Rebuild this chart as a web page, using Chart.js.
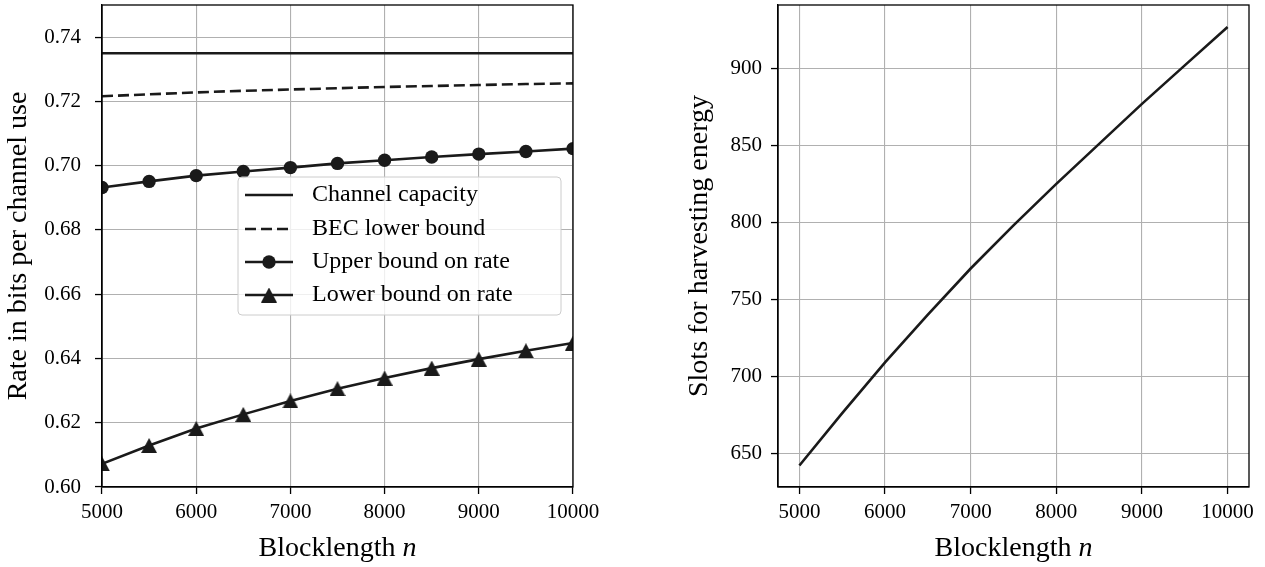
<!DOCTYPE html>
<html>
<head>
<meta charset="utf-8">
<script src="https://cdn.jsdelivr.net/npm/chart.js@4.4.1/dist/chart.umd.min.js"></script>
<style>
  html, body { margin: 0; padding: 0; background: #fff; }
  #wrap { position: relative; width: 1265px; height: 567px; }
  .box { position: absolute; top: 0; height: 567px; }
</style>
</head>
<body>
<div id="wrap">
  <div class="box" style="left:0;width:632px"><canvas id="rateChart"></canvas></div>
  <div class="box" style="left:632px;width:633px"><canvas id="slotsChart"></canvas></div>
</div>
<script>
// data
const blocklengths = [5000, 5500, 6000, 6500, 7000, 7500, 8000, 8500, 9000, 9500, 10000];
const channelCapacity = [0.735, 0.735, 0.735, 0.735, 0.735, 0.735, 0.735, 0.735, 0.735, 0.735, 0.735];
const becLowerBound = [0.7216, 0.7222, 0.7228, 0.7233, 0.7237, 0.7241, 0.7245, 0.7248, 0.7251, 0.7254, 0.7256];
const upperBound = [0.6932, 0.6951, 0.6969, 0.6982, 0.6994, 0.7007, 0.7017, 0.7027, 0.7036, 0.7044, 0.7053];
const lowerBound = [0.6072, 0.6129, 0.6182, 0.6226, 0.6268, 0.6306, 0.6339, 0.6370, 0.6398, 0.6424, 0.6448];
const harvestSlots = [642, 676, 709, 740, 770, 798, 825, 851, 877, 902, 927];

const rateTicks = [0.60, 0.62, 0.64, 0.66, 0.68, 0.70, 0.72, 0.74];
const blockTicks = [5000, 6000, 7000, 8000, 9000, 10000];
const slotTicks = [650, 700, 750, 800, 850, 900];

const legendLabels = ['Channel capacity', 'BEC lower bound', 'Upper bound on rate', 'Lower bound on rate'];

const INK = '#1a1a1a';
const SERIF = "'Liberation Serif', 'DejaVu Serif', serif";
const TICK_PX = 21, LABEL_PX = 28, LEGEND_PX = 24;

Chart.defaults.font.family = SERIF;
Chart.defaults.font.size = TICK_PX;
Chart.defaults.font.lineHeight = 1.2;
Chart.defaults.color = '#000';

const pts = ys => blocklengths.map((x, i) => ({ x: x, y: ys[i] }));

// matplotlib '^' marker: centred on its bounding box, not on its centroid
const triangle = document.createElement('canvas');
triangle.width = 16;
triangle.height = 15;
(function () {
  const c = triangle.getContext('2d');
  c.fillStyle = INK;
  c.beginPath();
  c.moveTo(8, 0);
  c.lineTo(16, 15);
  c.lineTo(0, 15);
  c.closePath();
  c.fill();
})();

// matplotlib-ish axes box + x title with italic n + optional legend
const frame = {
  id: 'frame',
  afterDraw(chart, args, opts) {
    const { ctx, chartArea: a } = chart;
    ctx.save();
    ctx.strokeStyle = '#000';
    ctx.lineWidth = 1.3;
    ctx.strokeRect(a.left, a.top, a.right - a.left, a.bottom - a.top);

    // x title
    ctx.fillStyle = '#000';
    ctx.textBaseline = 'middle';
    ctx.textAlign = 'left';
    const roman = LABEL_PX + 'px ' + SERIF, ital = 'italic ' + LABEL_PX + 'px ' + SERIF;
    ctx.font = roman;
    const w1 = ctx.measureText('Blocklength ').width;
    ctx.font = ital;
    const w2 = ctx.measureText('n').width;
    const x0 = (a.left + a.right) / 2 - (w1 + w2) / 2;
    ctx.font = roman;
    ctx.fillText('Blocklength ', x0, 549);
    ctx.font = ital;
    ctx.fillText('n', x0 + w1, 549);

    if (opts.legend) {
      const L = { x: 238, y: 177, w: 323, h: 138 };
      ctx.beginPath();
      ctx.roundRect(L.x, L.y, L.w, L.h, 4);
      ctx.fillStyle = 'rgba(255,255,255,0.8)';
      ctx.fill();
      ctx.strokeStyle = '#cccccc';
      ctx.lineWidth = 1;
      ctx.stroke();

      const rows = [195, 229, 262, 295];
      chart.data.datasets.forEach((ds, i) => {
        const y = rows[i];
        ctx.strokeStyle = INK;
        ctx.lineWidth = ds.borderWidth;
        ctx.setLineDash(ds.borderDash || []);
        ctx.beginPath();
        ctx.moveTo(245, y);
        ctx.lineTo(293, y);
        ctx.stroke();
        ctx.setLineDash([]);
        if (ds.pointRadius > 0) {
          ctx.fillStyle = INK;
          Chart.helpers.drawPoint(ctx, {
            pointStyle: ds.pointStyle, radius: ds.pointRadius, rotation: 0, borderWidth: 0
          }, 269, y);
        }
        ctx.fillStyle = '#000';
        ctx.font = LEGEND_PX + 'px ' + SERIF;
        ctx.fillText(legendLabels[i], 312, y);
      });
    }
    ctx.restore();
  }
};

function lineSet(label, ys, extra) {
  return Object.assign({
    label: label,
    data: pts(ys),
    borderColor: INK,
    backgroundColor: INK,
    borderWidth: 2.6,
    pointRadius: 0,
    pointBorderWidth: 0,
    tension: 0,
    clip: 0
  }, extra);
}

function fixedTicks(values) {
  return scale => { scale.ticks = values.map(v => ({ value: v })); };
}

function gridOpts() {
  return { color: '#b0b0b0', lineWidth: 1.1, tickColor: '#000', tickWidth: 1.3, tickLength: 7 };
}

new Chart(document.getElementById('rateChart'), {
  type: 'line',
  data: {
    datasets: [
      lineSet('Channel capacity', channelCapacity),
      lineSet('BEC lower bound', becLowerBound, { borderDash: [11, 5] }),
      lineSet('Upper bound on rate', upperBound, { pointRadius: 6.7, pointStyle: 'circle' }),
      lineSet('Lower bound on rate', lowerBound, { pointRadius: 8, pointStyle: triangle })
    ]
  },
  options: {
    responsive: true,
    maintainAspectRatio: false,
    animation: false,
    events: [],
    layout: { autoPadding: false, padding: { top: 5, right: 59, left: 0, bottom: 0 } },
    plugins: { legend: { display: false }, tooltip: { enabled: false }, frame: { legend: true } },
    scales: {
      x: {
        type: 'linear', min: 5000, max: 10000,
        afterBuildTicks: fixedTicks(blockTicks),
        afterFit: s => { s.height = 80; s.paddingLeft = 0; s.paddingRight = 0; },
        grid: gridOpts(),
        border: { color: '#000', width: 1.3 },
        ticks: { padding: 6, maxRotation: 0, callback: v => String(v) }
      },
      y: {
        type: 'linear', min: 0.60, max: 0.75,
        afterBuildTicks: fixedTicks(rateTicks),
        afterFit: s => { s.width = 102; s.paddingTop = 0; s.paddingBottom = 0; },
        grid: gridOpts(),
        border: { color: '#000', width: 1.3 },
        ticks: { padding: 14, callback: v => v.toFixed(2) },
        title: { display: true, text: 'Rate in bits per channel use', padding: { top: 2, bottom: 0 }, font: { size: LABEL_PX } }
      }
    }
  },
  plugins: [frame]
});

new Chart(document.getElementById('slotsChart'), {
  type: 'line',
  data: {
    datasets: [lineSet('Slots for harvesting energy', harvestSlots)]
  },
  options: {
    responsive: true,
    maintainAspectRatio: false,
    animation: false,
    events: [],
    layout: { autoPadding: false, padding: { top: 5, right: 16, left: 50, bottom: 0 } },
    plugins: { legend: { display: false }, tooltip: { enabled: false }, frame: { legend: false } },
    scales: {
      x: {
        type: 'linear', min: 4750, max: 10250,
        afterBuildTicks: fixedTicks(blockTicks),
        afterFit: s => { s.height = 80; s.paddingLeft = 0; s.paddingRight = 0; },
        grid: gridOpts(),
        border: { color: '#000', width: 1.3 },
        ticks: { padding: 6, maxRotation: 0, callback: v => String(v) }
      },
      y: {
        type: 'linear', min: 628, max: 941.25,
        afterBuildTicks: fixedTicks(slotTicks),
        afterFit: s => { s.width = 96; s.paddingTop = 0; s.paddingBottom = 0; },
        grid: gridOpts(),
        border: { color: '#000', width: 1.3 },
        ticks: { padding: 9, callback: v => String(v) },
        title: { display: true, text: 'Slots for harvesting energy', padding: { top: 1, bottom: 0 }, font: { size: LABEL_PX } }
      }
    }
  },
  plugins: [frame]
});
</script>
</body>
</html>
